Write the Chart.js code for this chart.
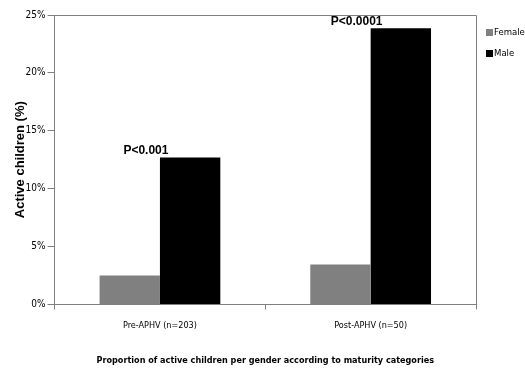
<!DOCTYPE html>
<html><head><meta charset="utf-8">
<script src="https://cdn.jsdelivr.net/npm/chart.js@4/dist/chart.umd.min.js"></script>
<style>html,body{margin:0;padding:0;background:#fff}#wrap{width:525px;height:368px}</style>
</head><body><div id="wrap"><canvas id="c" width="525" height="368"></canvas></div>
<script>
const categories = ["Pre-APHV (n=203)", "Post-APHV (n=50)"];
const seriesNames = ["Female", "Male"];
const femaleValues = [2.5, 3.45];
const maleValues = [12.7, 23.85];
const pLabels = ["P<0.001", "P<0.0001"];
const yTicks = [0, 5, 10, 15, 20, 25];

const NARROW = "'DejaVu Sans Condensed','Liberation Sans Narrow','Arial Narrow',sans-serif";

const frame = {
  id: 'frame',
  afterDatasetsDraw(chart) {
    const {ctx, chartArea: a, scales} = chart;
    ctx.save();
    ctx.strokeStyle = '#7f7f7f';
    ctx.lineWidth = 1;
    ctx.beginPath();
    ctx.moveTo(a.left, a.top + 0.5); ctx.lineTo(a.right + 0.5, a.top + 0.5); ctx.lineTo(a.right + 0.5, a.bottom);
    ctx.stroke();
    // p-value annotations
    ctx.fillStyle = '#000';
    ctx.font = "bold 12px 'Liberation Sans',Arial,sans-serif";
    ctx.textAlign = 'center';
    ctx.textBaseline = 'bottom';
    pLabels.forEach((t, i) => {
      const x = scales.x.getPixelForValue(i) - 14;
      const y = scales.y.getPixelForValue(maleValues[i]) - 1;
      ctx.fillText(t, x, y);
    });
    // legend
    ctx.font = "9.5px " + NARROW;
    ctx.textAlign = 'left';
    ctx.textBaseline = 'middle';
    chart.data.datasets.forEach((ds, i) => {
      const bx = a.right + 10;
      const cy = a.top + 17 + i * 21;
      ctx.fillStyle = ds.backgroundColor;
      ctx.fillRect(bx, cy - 3, 7, 7);
      ctx.fillStyle = '#000';
      ctx.fillText(ds.label, bx + 8, cy + 1);
    });
    ctx.restore();
  }
};

new Chart(document.getElementById('c'), {
  type: 'bar',
  data: {
    labels: categories,
    datasets: [
      {label: seriesNames[0], data: femaleValues, backgroundColor: '#808080', borderWidth: 0},
      {label: seriesNames[1], data: maleValues, backgroundColor: '#000000', borderWidth: 0}
    ]
  },
  options: {
    responsive: false,
    animation: false,
    devicePixelRatio: 1,
    layout: {padding: {top: 15, right: 49, left: 13, bottom: 2}},
    datasets: {bar: {categoryPercentage: 0.573, barPercentage: 1.0}},
    plugins: {
      legend: {display: false},
      tooltip: {enabled: false}
    },
    scales: {
      x: {
        grid: {display: true, drawOnChartArea: false, color: '#7f7f7f', tickLength: 5, offset: true},
        border: {color: '#7f7f7f'},
        ticks: {color: '#000', font: {family: NARROW, size: 9}, padding: 11},
        title: {display: true, text: 'Proportion of active children per gender according to maturity categories',
                color: '#000', font: {family: NARROW, size: 9, weight: 'bold'}, padding: {top: 13, bottom: 0}}
      },
      y: {
        min: 0, max: 25,
        afterBuildTicks(axis) { axis.ticks = yTicks.map(v => ({value: v})); },
        grid: {display: true, drawOnChartArea: false, color: '#7f7f7f', tickLength: 7},
        border: {color: '#7f7f7f'},
        ticks: {color: '#000', font: {family: NARROW, size: 10}, padding: 2, callback: v => v + '%'},
        title: {display: true, text: 'Active children (%)', color: '#000',
                font: {family: "'Liberation Sans',Arial,sans-serif", size: 13, weight: 'bold'}, padding: {top: 0, bottom: -5}}
      }
    }
  },
  plugins: [frame]
});
</script></body></html>
